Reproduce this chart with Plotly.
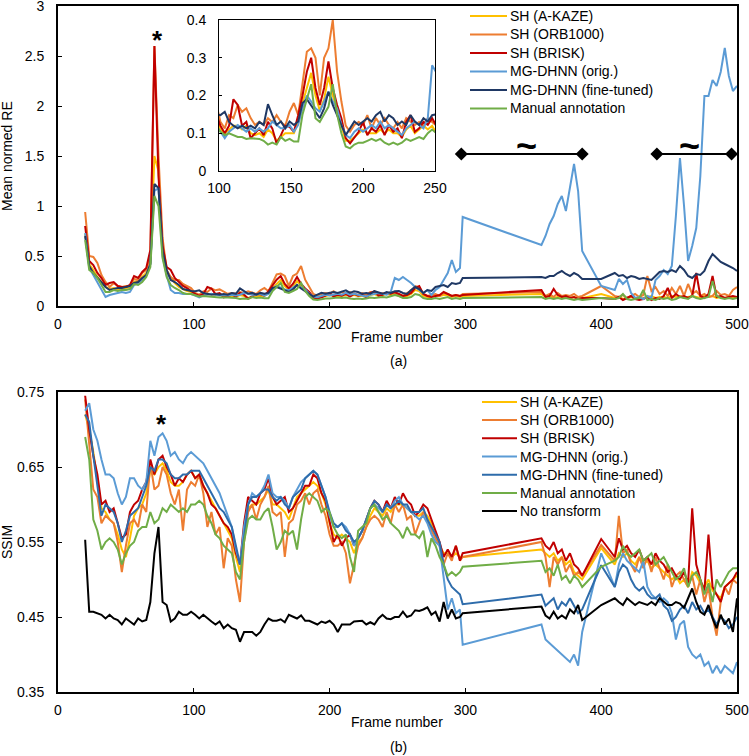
import plotly.graph_objects as go

# frame numbers (gaps 298-356 and 386-400-410 are bridged by straight lines)
FRAMES = [
    20, 23, 26, 29, 32, 35, 38, 41, 44, 47, 50, 53,
    56, 59, 62, 65, 68, 71, 74, 77, 80, 83, 86, 89,
    92, 95, 98, 101, 104, 107, 110, 113, 116, 119, 122, 125,
    128, 131, 134, 137, 140, 143, 146, 149, 152, 155, 158, 161,
    164, 167, 170, 173, 176, 179, 182, 185, 188, 191, 194, 197,
    200, 203, 206, 209, 212, 215, 218, 221, 224, 227, 230, 233,
    236, 239, 242, 245, 248, 251, 254, 257, 260, 263, 266, 269,
    272, 275, 278, 281, 284, 287, 290, 293, 296, 298,
    356, 359, 362, 365, 368, 371, 374, 377, 380, 383, 386, 400,
    410, 413, 416, 419, 422, 425, 428, 431, 434, 437, 440, 443,
    446, 449, 452, 455, 458, 461, 464, 467, 470, 473, 476, 479,
    482, 485, 488, 491, 494, 497, 500,
]

# (a) mean normed reprojection error
A_AKAZE = [
    .72, .42, .36, .29, .24, .19, .17, .18, .17, .17, .18, .19,
    .24, .25, .29, .33, .43, 1.5, 1.35, .55, .33, .29, .23, .19,
    .17, .15, .14, .11, .10, .11, .12, .12, .11, .12, .10, .095,
    .10, .09, .11, .10, .08, .09, .10, .10, .10, .13, .18, .22,
    .26, .20, .16, .19, .25, .20, .16, .12, .08, .08, .09, .10,
    .11, .10, .10, .10, .11, .10, .11, .10, .10, .09, .11, .12,
    .10, .11, .12, .11, .12, .10, .09, .10, .12, .16, .15, .10,
    .09, .09, .10, .10, .11, .11, .09, .10, .09, .10,
    .12, .09, .10, .08, .09, .08, .09, .08, .09, .07, .08, .12,
    .08, .09, .07, .08, .09, .08, .07, .08, .09, .10, .08, .09,
    .09, .08, .10, .09, .10, .08, .09, .10, .09, .08, .10, .09,
    .10, .08, .09, .08, .09, .08, .09,
]
A_ORB = [
    .94, .50, .49, .43, .31, .24, .19, .23, .20, .19, .20, .20,
    .27, .26, .33, .36, .49, 2.6, 1.5, .68, .36, .29, .26, .26,
    .22, .20, .18, .13, .113, .148, .14, .175, .157, .166, .14, .122,
    .13, .122, .14, .13, .148, .13, .12, .157, .18, .148, .237, .316,
    .325, .30, .20, .30, .325, .40, .263, .184, .12, .104, .122, .13,
    .122, .148, .113, .14, .122, .14, .122, .113, .13, .113, .14, .13,
    .122, .13, .12, .14, .13, .12, .10, .13, .15, .20, .19, .12,
    .10, .11, .12, .10, .13, .12, .10, .11, .10, .12,
    .14, .10, .12, .09, .13, .10, .11, .10, .12, .09, .10, .20,
    .10, .09, .11, .08, .10, .12, .09, .11, .30, .15, .19, .12,
    .15, .10, .18, .12, .20, .10, .22, .12, .15, .10, .12, .09,
    .10, .15, .11, .12, .10, .16, .19,
]
A_BRISK = [
    .80, .45, .41, .33, .28, .21, .23, .24, .20, .19, .19, .21,
    .30, .28, .34, .38, .56, 2.6, 1.3, .60, .39, .36, .28, .24,
    .20, .18, .15, .12, .10, .12, .19, .175, .12, .13, .087, .10,
    .113, .095, .13, .113, .073, .095, .12, .117, .104, .148, .20, .263,
    .30, .22, .175, .22, .29, .22, .175, .14, .087, .073, .087, .104,
    .13, .095, .113, .104, .122, .095, .122, .104, .113, .087, .13, .148,
    .104, .113, .13, .122, .14, .12, .10, .11, .13, .18, .20, .12,
    .10, .09, .10, .11, .14, .12, .10, .11, .10, .11,
    .16, .09, .10, .17, .11, .09, .10, .08, .09, .07, .08, .08,
    .07, .09, .06, .08, .10, .07, .06, .07, .09, .06, .08, .07,
    .10, .18, .08, .12, .09, .10, .08, .10, .33, .10, .08, .12,
    .30, .09, .10, .08, .09, .10, .09,
]
A_ORIG = [
    .73, .38, .31, .24, .16, .09, .11, .12, .13, .14, .13, .14,
    .21, .23, .26, .31, .42, 1.15, 1.18, .50, .31, .16, .13, .13,
    .12, .12, .12, .104, .087, .104, .113, .122, .113, .104, .113, .104,
    .113, .104, .113, .131, .122, .113, .113, .122, .104, .122, .166, .20,
    .184, .166, .157, .184, .21, .184, .166, .122, .095, .087, .104, .113,
    .104, .113, .122, .113, .131, .113, .122, .113, .104, .095, .113, .122,
    .131, .122, .113, .14, .28, .26, .29, .26, .23, .19, .16, .13,
    .16, .11, .16, .19, .26, .33, .46, .34, .38, .89,
    .61, .70, .82, .90, 1.02, 1.1, .95, 1.18, 1.42, 1.15, .55, .20,
    .16, .27, .22, .26, .13, .08, .09, .07, .10, .08, .26, .30,
    .36, .32, .40, .90, 1.48, 1.0, .45, .60, .78, 1.3, 2.1, 2.1,
    2.26, 2.2, 2.34, 2.58, 2.3, 2.15, 2.2,
]
A_FINE = [
    .70, .40, .33, .28, .23, .19, .16, .17, .18, .18, .19, .20,
    .23, .24, .28, .31, .42, 1.22, 1.18, .55, .36, .26, .24, .21,
    .17, .16, .15, .148, .157, .13, .12, .113, .12, .113, .12, .113,
    .13, .122, .177, .148, .122, .131, .113, .131, .122, .131, .18, .19,
    .175, .157, .14, .166, .21, .175, .148, .122, .095, .113, .131, .122,
    .131, .14, .131, .148, .157, .131, .148, .14, .122, .131, .122, .148,
    .131, .122, .14, .131, .148, .15, .13, .12, .16, .19, .17, .13,
    .16, .15, .19, .20, .21, .19, .23, .22, .23, .28,
    .29, .28, .30, .30, .33, .35, .32, .30, .33, .31, .27, .27,
    .33, .30, .31, .28, .30, .29, .27, .28, .27, .26, .30, .34,
    .35, .34, .36, .34, .40, .36, .30, .28, .32, .31, .35, .45,
    .52, .48, .44, .42, .40, .38, .35,
]
A_MANUAL = [
    .66, .36, .33, .28, .21, .14, .14, .16, .15, .16, .16, .17,
    .22, .21, .24, .29, .39, 1.1, 1.0, .48, .29, .21, .18, .16,
    .13, .12, .12, .104, .095, .10, .095, .09, .09, .085, .087, .085,
    .085, .08, .07, .075, .07, .09, .08, .085, .078, .078, .15, .19,
    .23, .14, .13, .15, .17, .23, .15, .10, .065, .06, .07, .075,
    .075, .08, .085, .08, .085, .075, .07, .075, .07, .075, .085, .08,
    .085, .09, .085, .10, .11, .10, .08, .08, .09, .12, .11, .08,
    .07, .07, .08, .07, .08, .09, .07, .08, .07, .08,
    .09, .07, .08, .07, .08, .07, .08, .07, .06, .07, .06, .08,
    .07, .08, .12, .07, .06, .07, .08, .16, .06, .07, .06, .08,
    .07, .08, .06, .07, .09, .08, .07, .10, .08, .07, .08, .09,
    .25, .10, .08, .07, .08, .07, .08,
]

# (b) SSIM
B_AKAZE = [
    .72, .70, .67, .635, .595, .59, .58, .575, .56, .54, .53, .555,
    .585, .595, .60, .615, .645, .64, .65, .655, .645, .63, .625, .625,
    .63, .64, .645, .635, .64, .625, .615, .605, .595, .585, .575, .565,
    .555, .53, .51, .56, .595, .60, .60, .605, .61, .62, .60, .60,
    .595, .59, .58, .595, .61, .615, .62, .625, .63, .625, .615, .60,
    .575, .56, .555, .56, .555, .55, .535, .55, .555, .57, .585, .595,
    .59, .585, .595, .59, .60, .60, .60, .595, .59, .585, .585, .59,
    .585, .575, .56, .545, .535, .535, .53, .535, .53, .53,
    .54, .535, .53, .535, .525, .53, .52, .525, .51, .505, .50, .542,
    .52, .535, .53, .535, .525, .52, .53, .52, .525, .515, .52, .515,
    .51, .505, .50, .505, .495, .50, .49, .51, .505, .495, .49, .50,
    .485, .48, .475, .49, .495, .50, .505,
]
B_ORB = [
    .74, .68, .62, .61, .575, .585, .58, .575, .55, .51, .545, .575,
    .58, .57, .60, .59, .655, .62, .625, .65, .64, .615, .60, .62,
    .565, .62, .63, .625, .64, .615, .57, .59, .56, .57, .515, .555,
    .545, .50, .47, .55, .59, .60, .58, .60, .61, .625, .59, .585,
    .59, .53, .575, .58, .60, .605, .615, .60, .615, .62, .60, .585,
    .56, .545, .545, .55, .535, .495, .52, .545, .555, .57, .58, .585,
    .58, .57, .59, .575, .60, .59, .60, .58, .585, .56, .575, .59,
    .58, .565, .555, .545, .52, .535, .525, .545, .525, .53,
    .55, .53, .49, .53, .52, .53, .51, .52, .505, .51, .505, .546,
    .525, .585, .535, .54, .52, .51, .53, .515, .53, .51, .53, .515,
    .50, .52, .49, .505, .51, .50, .49, .505, .48, .50, .47, .49,
    .45, .425, .47, .49, .48, .50, .495,
]
B_BRISK = [
    .745, .70, .665, .64, .60, .605, .59, .595, .575, .555, .56, .59,
    .60, .605, .62, .63, .66, .64, .66, .665, .65, .64, .625, .635,
    .63, .64, .645, .635, .64, .625, .615, .60, .595, .585, .575, .57,
    .56, .535, .52, .575, .61, .605, .60, .615, .62, .635, .61, .60,
    .605, .61, .59, .595, .605, .615, .625, .625, .64, .635, .615, .605,
    .575, .55, .56, .545, .555, .56, .545, .555, .565, .58, .595, .605,
    .60, .59, .605, .595, .61, .60, .615, .605, .60, .585, .59, .60,
    .595, .58, .565, .55, .53, .54, .53, .545, .525, .535,
    .555, .545, .54, .55, .535, .54, .525, .535, .52, .515, .505, .554,
    .53, .555, .54, .545, .535, .53, .54, .525, .53, .52, .535, .525,
    .52, .51, .515, .505, .50, .51, .495, .595, .52, .50, .485, .56,
    .49, .48, .47, .49, .495, .50, .51,
]
B_ORIG = [
    .725, .735, .70, .685, .66, .64, .64, .635, .615, .60, .61, .635,
    .635, .625, .62, .63, .685, .665, .69, .695, .685, .665, .67, .66,
    .655, .665, .67, .665, .66, .655, .645, .635, .625, .615, .60, .585,
    .57, .54, .52, .57, .60, .615, .61, .615, .625, .64, .615, .61,
    .61, .605, .595, .61, .62, .63, .635, .64, .645, .64, .625, .61,
    .585, .57, .57, .575, .57, .56, .545, .555, .565, .58, .595, .60,
    .595, .59, .60, .595, .605, .61, .60, .595, .59, .585, .58, .585,
    .575, .56, .55, .545, .50, .46, .475, .455, .46, .413,
    .44, .42, .415, .41, .405, .40, .395, .39, .40, .385, .43, .535,
    .49, .52, .535, .525, .52, .515, .51, .525, .49, .48, .475, .47,
    .475, .47, .455, .42, .44, .445, .41, .40, .395, .40, .385, .39,
    .375, .385, .375, .385, .38, .375, .39,
]
B_FINE = [
    .72, .71, .665, .625, .585, .60, .595, .59, .575, .55, .565, .585,
    .59, .595, .61, .625, .65, .645, .66, .66, .655, .64, .635, .635,
    .64, .64, .645, .645, .645, .635, .625, .615, .605, .595, .59, .58,
    .57, .545, .52, .555, .60, .61, .61, .615, .62, .62, .61, .605,
    .61, .60, .595, .61, .615, .62, .635, .64, .645, .64, .625, .61,
    .59, .575, .57, .575, .565, .56, .55, .555, .565, .58, .595, .605,
    .60, .59, .60, .595, .60, .605, .60, .60, .59, .59, .59, .595,
    .58, .57, .56, .55, .52, .50, .49, .485, .48, .467,
    .48, .465, .47, .475, .46, .47, .465, .475, .465, .455, .46, .519,
    .49, .51, .52, .515, .50, .49, .485, .49, .48, .475, .475, .48,
    .465, .46, .445, .45, .46, .465, .455, .47, .46, .465, .455, .46,
    .45, .44, .45, .445, .435, .44, .45,
]
B_MANUAL = [
    .69, .66, .58, .565, .54, .55, .555, .55, .54, .52, .535, .545,
    .55, .565, .57, .57, .59, .575, .58, .595, .59, .60, .595, .59,
    .595, .59, .60, .60, .605, .60, .585, .575, .56, .555, .545, .54,
    .535, .51, .50, .55, .58, .585, .58, .58, .59, .595, .57, .54,
    .55, .565, .56, .565, .54, .58, .61, .615, .61, .605, .59, .595,
    .59, .57, .56, .555, .56, .53, .51, .565, .57, .575, .595, .60,
    .59, .58, .585, .575, .57, .565, .555, .57, .56, .56, .555, .565,
    .53, .555, .545, .53, .52, .505, .51, .505, .51, .517,
    .525, .51, .515, .505, .52, .50, .505, .495, .505, .50, .49, .517,
    .525, .53, .545, .535, .53, .535, .54, .525, .53, .535, .52, .525,
    .53, .52, .51, .50, .505, .515, .49, .505, .51, .50, .48, .495,
    .47, .50, .49, .50, .51, .515, .515,
]
B_NONE = [
    .553, .457, .457, .455, .453, .448, .453, .448, .446, .44, .448, .444,
    .44, .448, .444, .446, .47, .535, .57, .47, .466, .444, .448, .457,
    .453, .453, .457, .453, .448, .453, .448, .444, .44, .444, .435, .44,
    .435, .433, .417, .43, .43, .43, .425, .43, .44, .448, .445, .445,
    .447, .443, .453, .45, .448, .452, .445, .445, .442, .44, .444, .442,
    .445, .44, .43, .44, .44, .44, .444, .444, .445, .44, .443, .44,
    .448, .453, .448, .447, .45, .45, .457, .45, .452, .459, .458, .46,
    .463, .453, .457, .444, .47, .448, .46, .448, .45, .455,
    .464, .452, .448, .457, .448, .452, .448, .46, .455, .466, .446, .466,
    .475, .47, .466, .475, .47, .466, .47, .468, .466, .47, .466, .475,
    .47, .466, .466, .47, .468, .462, .475, .488, .47, .457, .453, .466,
    .448, .435, .453, .44, .448, .43, .475,
]

LABELS = ['SH (A-KAZE)', 'SH (ORB1000)', 'SH (BRISK)', 'MG-DHNN (orig.)',
          'MG-DHNN (fine-tuned)', 'Manual annotation', 'No transform']
COLORS_A = ['#FFC000', '#ED7D31', '#C00000', '#5B9BD5', '#1F3864', '#70AD47']
COLORS_B = ['#FFC000', '#ED7D31', '#C00000', '#5B9BD5', '#2E6CAB', '#70AD47', '#000000']

# "not continuous" brackets in (a)
GAP1_X = [297, 386]
GAP2_X = [441, 496]
GAP_Y = [1.52, 1.52]

SERIES_A = [A_AKAZE, A_ORB, A_BRISK, A_ORIG, A_FINE, A_MANUAL]
SERIES_B = [B_AKAZE, B_ORB, B_BRISK, B_ORIG, B_FINE, B_MANUAL, B_NONE]
for s in SERIES_A + SERIES_B:
    assert len(s) == len(FRAMES), len(s)

W, H = 749, 756
FONT = 'Arial, "Liberation Sans", sans-serif'


def px(x):
    return x / W


def py(y):
    return 1 - y / H


fig = go.Figure()

for ys, c in zip(SERIES_A, COLORS_A):
    fig.add_trace(go.Scatter(x=FRAMES, y=ys, mode='lines', line=dict(color=c, width=2),
                             xaxis='x', yaxis='y', showlegend=False))
for ys, c in zip(SERIES_A, COLORS_A):
    fig.add_trace(go.Scatter(x=FRAMES, y=ys, mode='lines', line=dict(color=c, width=2),
                             xaxis='x3', yaxis='y3', showlegend=False))
for ys, c in zip(SERIES_B, COLORS_B):
    fig.add_trace(go.Scatter(x=FRAMES, y=ys, mode='lines', line=dict(color=c, width=2),
                             xaxis='x2', yaxis='y2', showlegend=False))

for gx in (GAP1_X, GAP2_X):
    fig.add_trace(go.Scatter(x=gx, y=GAP_Y, mode='lines+markers', xaxis='x', yaxis='y',
                             line=dict(color='black', width=2),
                             marker=dict(symbol='diamond', size=10, color='black'),
                             showlegend=False))

tickfont = dict(family=FONT, size=14, color='black')
axis_common = dict(showline=True, linecolor='black', linewidth=2, mirror=True,
                   ticks='inside', ticklen=4, tickcolor='black', showgrid=False,
                   zeroline=False, automargin=False, ticklabeloverflow='allow',
                   tickfont=tickfont)
inset_common = dict(showline=True, linecolor='black', linewidth=1, mirror=True,
                    ticks='inside', ticklen=3, tickcolor='black', showgrid=False,
                    zeroline=False, automargin=False, ticklabeloverflow='allow',
                    tickfont=tickfont)

fig.update_layout(
    width=W, height=H, autosize=False,
    margin=dict(l=0, r=0, t=0, b=0),
    paper_bgcolor='white', plot_bgcolor='rgba(0,0,0,0)',
    font=dict(family=FONT, size=14, color='black'),
    xaxis=dict(domain=[px(58), px(737)], range=[0, 500], dtick=100, anchor='y',
               ticklabelstandoff=4, **axis_common),
    yaxis=dict(domain=[py(306), py(6)], range=[0, 3], dtick=0.5, anchor='x',
               ticklabelstandoff=9, **axis_common),
    xaxis2=dict(domain=[px(58), px(737)], range=[0, 500], dtick=100, anchor='y2',
                ticklabelstandoff=4, **axis_common),
    yaxis2=dict(domain=[py(692), py(392)], range=[0.35, 0.75], dtick=0.1, tick0=0.35,
                tickformat='.2f', anchor='x2', ticklabelstandoff=9, **axis_common),
    xaxis3=dict(domain=[px(219), px(435)], range=[100, 250], dtick=50, anchor='y3',
                ticklabelstandoff=4, **inset_common),
    yaxis3=dict(domain=[py(171), py(20)], range=[0, 0.4], dtick=0.1, anchor='x3',
                ticklabelstandoff=9, **inset_common),
)

ann = []
shapes = []


def text(x, y, s, size=14, angle=0, xanchor='center'):
    ann.append(dict(x=px(x), y=py(y), xref='paper', yref='paper', text=s, showarrow=False,
                    textangle=angle, xanchor=xanchor, yanchor='middle',
                    font=dict(family=FONT, size=size, color='black')))


text(7, 156, 'Mean normed RE', angle=-90)
text(7, 542, 'SSIM', angle=-90)
text(397, 337, 'Frame number')
text(398, 361, '(a)')
text(397, 722, 'Frame number')
text(398, 747, '(b)')

# markers inside the plots, placed in data coordinates
ann.append(dict(x=73.5, y=2.66, xref='x', yref='y', text='<b>*</b>', showarrow=False,
                font=dict(family=FONT, size=26, color='black')))
ann.append(dict(x=76, y=0.708, xref='x2', yref='y2', text='<b>*</b>', showarrow=False,
                font=dict(family=FONT, size=26, color='black')))
for tx in (345, 465):
    ann.append(dict(x=tx, y=1.6, xref='x', yref='y', text='<b>~</b>', showarrow=False,
                    font=dict(family=FONT, size=36, color='black')))

# legends
leg_a_rows = [16, 34.5, 53, 71.5, 90, 108.5]
for lab, c, yy in zip(LABELS, COLORS_A, leg_a_rows):
    shapes.append(dict(type='line', xref='paper', yref='paper', x0=px(470), x1=px(507),
                       y0=py(yy), y1=py(yy), line=dict(color=c, width=2)))
    text(508, yy, lab, xanchor='left')

leg_b_rows = [402, 420, 438.3, 456.6, 474.8, 493, 511]
for lab, c, yy in zip(LABELS, COLORS_B, leg_b_rows):
    shapes.append(dict(type='line', xref='paper', yref='paper', x0=px(482), x1=px(517),
                       y0=py(yy), y1=py(yy), line=dict(color=c, width=2)))
    text(518, yy, lab, xanchor='left')

fig.update_layout(annotations=ann, shapes=shapes)
# the page's default body margin would shift the figure by 8px
fig.write_html("out.html", config={'displayModeBar': False},
               post_script="document.body.style.margin='0';")
